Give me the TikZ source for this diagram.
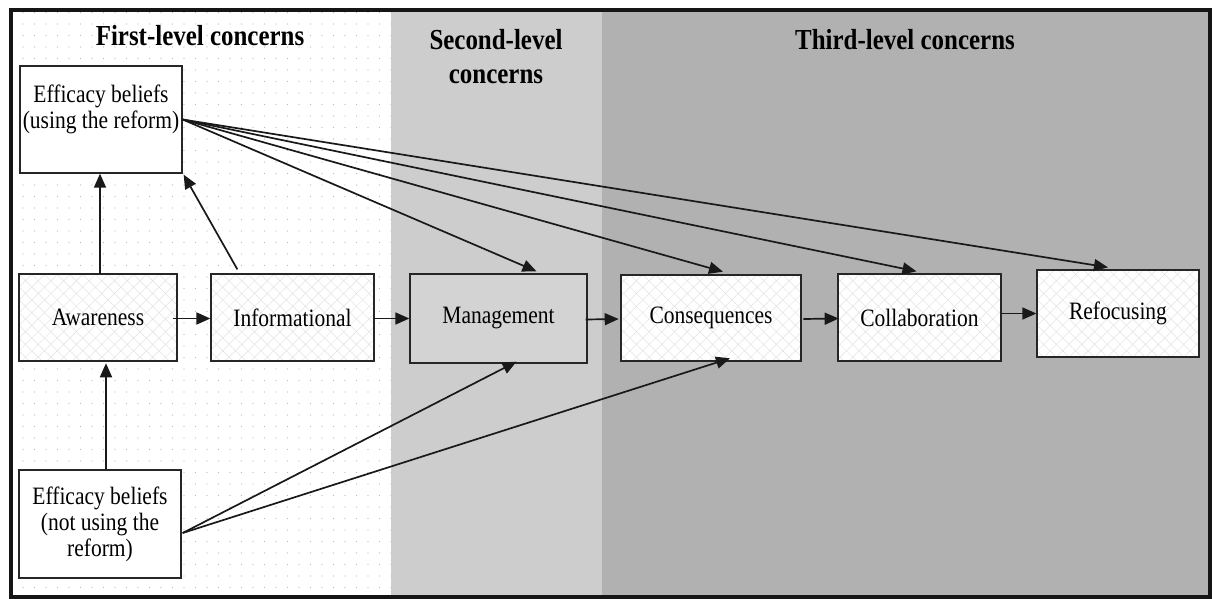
\documentclass[tikz,border=0pt]{standalone}
\usepackage{fontspec}
\setmainfont{Liberation Serif}
\newfontfamily\narrowserif[FakeStretch=0.86]{Liberation Serif}
\usetikzlibrary{arrows.meta,calc,patterns.meta}
\definecolor{secondbg}{HTML}{CDCDCD}
\definecolor{thirdbg}{HTML}{B1B1B1}
\definecolor{frameink}{HTML}{151515}
\tikzset{
  boxtext/.style={font=\narrowserif\fontsize{25}{26}\selectfont, align=center},
  titletext/.style={font=\narrowserif\fontsize{29}{34}\selectfont\bfseries, align=center, inner sep=0pt},
  stagebox/.style={boxtext, draw=black!85, line width=1.3pt, fill=white, inner sep=0pt},
  weave/.style={preaction={fill=white}, pattern={Hatch[angle=45,distance=9pt,line width=0.5pt]}, pattern color=gray!22},
  arr/.style={draw=black!90, line width=1.7pt, -{Triangle[length=14pt,width=12pt]}},
}
\begin{document}
\begin{tikzpicture}[x=1pt,y=-1pt]
\useasboundingbox (0,0) rectangle (1217,599);

% the three concern bands
\fill[white] (10,10) rectangle (391,597);
\fill[pattern={Dots[distance=11.5pt,radius=0.6pt]}, pattern color=gray!55] (10,10) rectangle (391,597);
\fill[secondbg] (391,10) rectangle (602,597);
\fill[thirdbg] (602,10) rectangle (1210,597);
\draw[frameink, line width=4pt] (10.5,10) rectangle (1209.5,597);

% band headings
\node[titletext] (t1) at (200,36) {First-level concerns};
\node[titletext] (t2) at (496,57) {Second-level\\concerns};
\node[titletext] (t3) at (905,40) {Third-level concerns};

% efficacy beliefs boxes
\node[stagebox, minimum width=162pt, minimum height=107pt] (effuse) at (101,119.5) {};
\node[boxtext, inner sep=0pt] (effusetxt) at (101,109) {Efficacy beliefs\\(using the reform)};
\node[stagebox, minimum width=162pt, minimum height=108pt] (notuse) at (100,524) {Efficacy beliefs\\(not using the\\reform)};

% concern stages
\node[stagebox, weave, minimum width=158pt, minimum height=87pt] (aware) at (98,317.5) {Awareness};
\node[stagebox, weave, minimum width=163pt, minimum height=87pt] (info) at (292.5,317.5) {Informational};
\node[stagebox, fill=secondbg!88!white, minimum width=177pt, minimum height=89pt] (mgmt) at (498.5,318.5) {Management};
\node[stagebox, weave, line width=2.6pt, minimum width=180pt, minimum height=86pt] (conseq) at (711,318) {Consequences};
\node[stagebox, weave, minimum width=163pt, minimum height=87pt] (collab) at (919.5,317.5) {Collaboration};
\node[stagebox, weave, minimum width=162pt, minimum height=87pt] (refoc) at (1118,313.5) {Refocusing};

% stage sequence
\draw[arr] ($(aware.east)+(-4,1)$) -- ($(info.west)+(0,1)$);
\draw[arr] ($(info.east)+(-2,1)$) -- ($(mgmt.west)+(0,0)$);
\draw[arr] ($(mgmt.east)+(-2,1)$) -- ($(conseq.west)+(-1,1)$);
\draw[arr] ($(conseq.east)+(1,1)$) -- ($(collab.east)+(-163,1)$);
\draw[arr] ($(collab.east)+(0,-4)$) -- (refoc.west);

% links into efficacy beliefs (using the reform)
\draw[arr] ($(aware.north)+(2,0)$) -- ($(effuse.south)+(-1,0)$);
\draw[arr] ($(info.north west)+(27,-4)$) -- ($(effuse.south east)+(1,1)$);
\draw[arr] ($(notuse.north)+(6,0)$) -- ($(aware.south)+(8,2)$);

% efficacy (using the reform) to later stages
\draw[arr] (effuse.east) -- ($(mgmt.north)+(38,-2)$);
\draw[arr] (effuse.east) -- ($(conseq.north)+(12,-2)$);
\draw[arr] (effuse.east) -- ($(collab.north)+(-3,-2)$);
\draw[arr] (effuse.east) -- ($(refoc.north)+(-10,-2)$);

% efficacy (not using the reform) to later stages
\draw[arr] ($(notuse.east)+(1,9)$) -- ($(mgmt.south)+(18,-2)$);
\draw[arr] ($(notuse.east)+(1,9)$) -- ($(conseq.south)+(19,-4)$);
\end{tikzpicture}
\end{document}
